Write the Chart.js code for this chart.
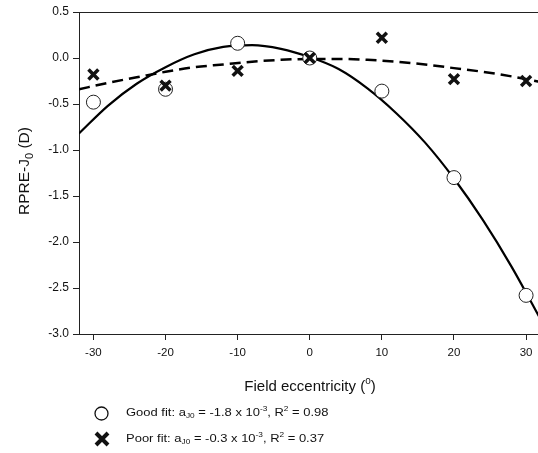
<!DOCTYPE html>
<html>
<head>
<meta charset="utf-8">
<script src="https://cdn.jsdelivr.net/npm/chart.js@4.4.0/dist/chart.umd.min.js"></script>
<style>
  html, body { margin: 0; padding: 0; background: #fff; overflow: hidden; }
  #wrap { width: 551px; height: 453px; }
</style>
</head>
<body>
<div id="wrap"><canvas id="myChart" width="551" height="453"></canvas></div>
<script>
// Datos
const eccentricity = [-30, -20, -10, 0, 10, 20, 30]
const goodFit = [-0.48, -0.34, 0.16, 0.00, -0.36, -1.30, -2.58]
const poorFit = [-0.18, -0.30, -0.14, 0.00, 0.22, -0.23, -0.25]

// Curvas de ajuste
const curveX = [-32, -28, -24, -20, -16, -12, -8, -4, 0, 4, 8, 12, 16, 20, 24, 28, 32]
const goodCurve = [-0.82, -0.52, -0.28, -0.10, 0.04, 0.12, 0.14, 0.10, 0.01, -0.12, -0.33, -0.60, -0.92, -1.31, -1.76, -2.27, -2.84]
const poorCurve = [-0.34, -0.27, -0.21, -0.15, -0.10, -0.07, -0.04, -0.02, -0.01, -0.01, -0.02, -0.04, -0.07, -0.11, -0.15, -0.20, -0.26]

const xTicks = [-30, -20, -10, 0, 10, 20, 30]
const yTicks = [0.5, 0.0, -0.5, -1.0, -1.5, -2.0, -2.5, -3.0]

const FONT = "'Liberation Sans', Arial, sans-serif"
const toPoints = (xs, ys) => xs.map((x, i) => ({x: x, y: ys[i]}))

// Texto con subíndices y superíndices
const drawRich = (ctx, x, y, parts, size) => {
  let cx = x
  parts.forEach(([txt, mode]) => {
    const s = mode ? Math.round(size * 0.68) : size
    const dy = mode == 'sub' ? size * 0.3 : mode == 'sup' ? -size * 0.38 : 0
    ctx.font = `${s}px ${FONT}`
    ctx.fillText(txt, cx, y + dy)
    cx += ctx.measureText(txt).width
  })
  return cx - x
}

const richWidth = (ctx, parts, size) => {
  let w = 0
  parts.forEach(([txt, mode]) => {
    ctx.font = `${mode ? Math.round(size * 0.68) : size}px ${FONT}`
    w += ctx.measureText(txt).width
  })
  return w
}

const extras = {
  id: 'extras',
  afterDraw(chart) {
    const ctx = chart.ctx
    const area = chart.chartArea
    ctx.save()
    // línea superior
    ctx.strokeStyle = '#222'
    ctx.lineWidth = 1
    ctx.beginPath()
    ctx.moveTo(area.left, area.top + 0.5)
    ctx.lineTo(area.right, area.top + 0.5)
    ctx.stroke()

    ctx.fillStyle = '#111'
    ctx.textBaseline = 'middle'
    // título eje x
    const xt = [['Field eccentricity (', null], ['o', 'sup'], [')', null]]
    const xw = richWidth(ctx, xt, 15)
    drawRich(ctx, 310 - xw / 2, 387, xt, 15)

    // título eje y
    ctx.save()
    ctx.translate(25, 171)
    ctx.rotate(-Math.PI / 2)
    const yt = [['RPRE-J', null], ['0', 'sub'], [' (D)', null]]
    const yw = richWidth(ctx, yt, 15.5)
    drawRich(ctx, -yw / 2, 0, yt, 15.5)
    ctx.restore()

    // leyenda
    ctx.beginPath()
    ctx.arc(101.5, 413.5, 6.5, 0, Math.PI * 2)
    ctx.fillStyle = '#fff'
    ctx.fill()
    ctx.strokeStyle = '#111'
    ctx.lineWidth = 1.3
    ctx.stroke()

    ctx.lineWidth = 4
    ctx.beginPath()
    ctx.moveTo(96, 433); ctx.lineTo(108, 445)
    ctx.moveTo(108, 433); ctx.lineTo(96, 445)
    ctx.stroke()

    // texto de leyenda, algo ensanchado como en el original
    ctx.fillStyle = '#111'
    ctx.save()
    ctx.translate(126, 0)
    ctx.scale(1.18, 1)
    drawRich(ctx, 0, 413, [['Good fit: a', null], ['J0', 'sub'], [' = -1.8 x 10', null], ['-3', 'sup'], [', R', null], ['2', 'sup'], [' = 0.98', null]], 11)
    drawRich(ctx, 0, 439, [['Poor fit: a', null], ['J0', 'sub'], [' = -0.3 x 10', null], ['-3', 'sup'], [', R', null], ['2', 'sup'], [' = 0.37', null]], 11)
    ctx.restore()
    ctx.restore()
  }
}

const data = {
  datasets: [
    {
      label: 'Good fit',
      data: toPoints(eccentricity, goodFit),
      pointStyle: 'circle',
      pointRadius: 7,
      pointBackgroundColor: '#fff',
      pointBorderColor: '#222',
      pointBorderWidth: 1,
      showLine: false,
      order: 1
    },
    {
      label: 'Poor fit',
      data: toPoints(eccentricity, poorFit),
      pointStyle: 'crossRot',
      pointRadius: 7,
      pointBorderColor: '#111',
      pointBorderWidth: 3.5,
      showLine: false,
      order: 0
    },
    {
      label: 'Good curve',
      data: toPoints(curveX, goodCurve),
      showLine: true,
      pointRadius: 0,
      borderColor: '#000',
      borderWidth: 2.2,
      cubicInterpolationMode: 'monotone',
      order: 3
    },
    {
      label: 'Poor curve',
      data: toPoints(curveX, poorCurve),
      showLine: true,
      pointRadius: 0,
      borderColor: '#000',
      borderWidth: 2.5,
      borderDash: [11, 6],
      cubicInterpolationMode: 'monotone',
      order: 2
    }
  ]
}

const config = {
  type: 'scatter',
  data: data,
  options: {
    responsive: false,
    animation: false,
    events: [],
    layout: { padding: { top: 12, right: 0, left: 0, bottom: 0 } },
    plugins: {
      legend: { display: false },
      tooltip: { enabled: false }
    },
    scales: {
      x: {
        type: 'linear',
        min: -32,
        max: 32,
        afterBuildTicks: scale => { scale.ticks = xTicks.map(v => ({value: v})) },
        afterFit: scale => {
          scale.height = 119
          scale.paddingLeft = 0
          scale.paddingRight = 0
        },
        grid: { drawOnChartArea: false, drawTicks: true, tickLength: 6, tickColor: '#222' },
        border: { display: true, color: '#222', width: 1 },
        ticks: {
          color: '#111',
          font: { family: FONT, size: 11.5 },
          padding: 6,
          maxRotation: 0,
          callback: v => v.toString()
        }
      },
      y: {
        type: 'linear',
        min: -3,
        max: 0.5,
        afterBuildTicks: scale => { scale.ticks = yTicks.map(v => ({value: v})) },
        afterFit: scale => {
          scale.width = 79
          scale.paddingTop = 0
          scale.paddingBottom = 0
        },
        grid: { drawOnChartArea: false, drawTicks: true, tickLength: 6, tickColor: '#222' },
        border: { display: true, color: '#222', width: 1 },
        ticks: {
          color: '#111',
          font: { family: FONT, size: 12 },
          padding: 4,
          callback: v => v.toFixed(1)
        }
      }
    }
  },
  plugins: [extras]
}

const ctx = document.getElementById('myChart')
const myChart = new Chart(ctx, config)
</script>
</body>
</html>
